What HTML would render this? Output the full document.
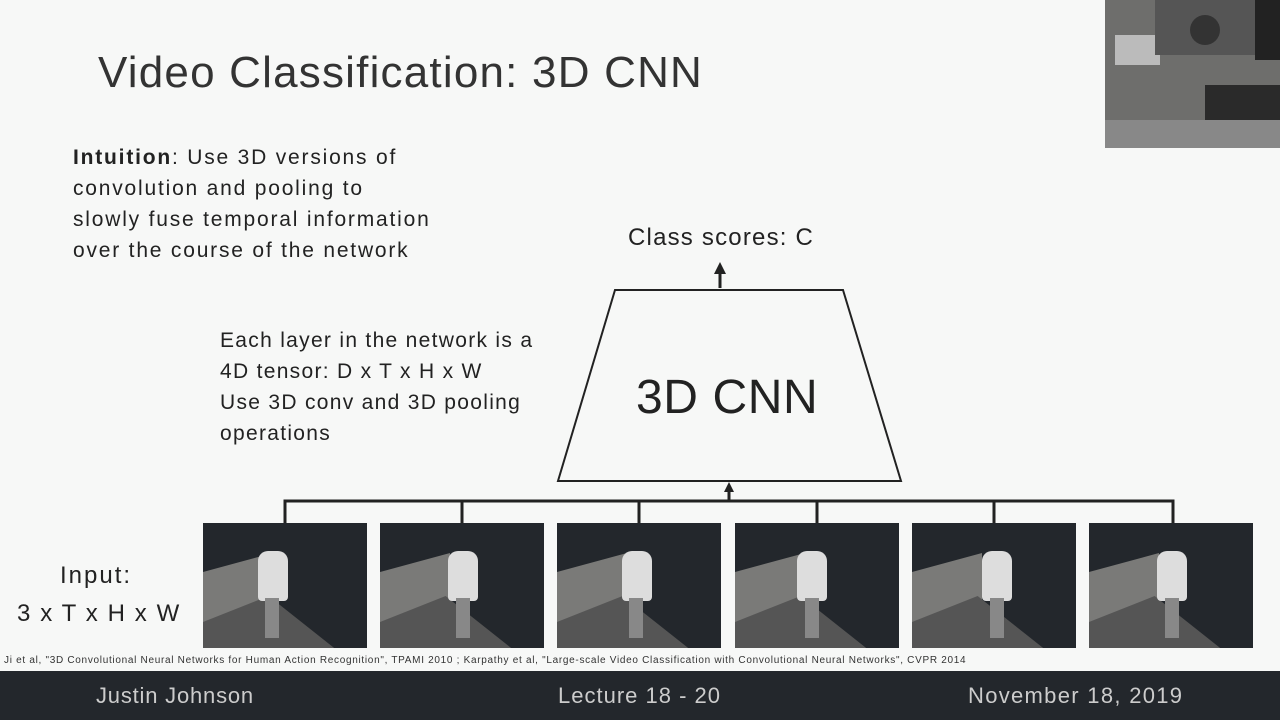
<!DOCTYPE html>
<html><head><meta charset="utf-8"><style>
body{margin:0;width:1280px;height:720px;background:#f7f8f7;position:relative;overflow:hidden;font-family:"Liberation Sans",sans-serif;color:#222}
.t{position:absolute;white-space:nowrap}
.fr{position:absolute;top:523px;width:164px;height:125px;background:#23272c;overflow:hidden}
.fr .w{position:absolute;left:0;top:30px;width:70px;height:95px;background:#7a7a78;clip-path:polygon(0 20%,100% 0,100% 100%,0 100%)}
.fr .g{position:absolute;left:0;top:60px;width:164px;height:65px;background:#555;clip-path:polygon(0 60%,40% 20%,80% 100%,0 100%)}
.fr .p{position:absolute;top:28px;width:30px;height:50px;background:#ddd;border-radius:10px 10px 4px 4px}
.fr .l{position:absolute;top:75px;width:14px;height:40px;background:#888}
</style></head><body>
<div class="t" style="left:98px;top:48px;font-size:44px;color:#333;letter-spacing:1.2px">Video Classification: 3D CNN</div>
<div class="t" style="left:73px;top:142px;font-size:21px;line-height:31px;letter-spacing:1.8px"><b>Intuition</b>: Use 3D versions of<br>convolution and pooling to<br>slowly fuse temporal information<br>over the course of the network</div>
<div class="t" style="left:220px;top:325px;font-size:21px;line-height:31px;letter-spacing:1.3px">Each layer in the network is a<br>4D tensor: D x T x H x W<br>Use 3D conv and 3D pooling<br>operations</div>
<div class="t" style="left:628px;top:224px;font-size:24px;letter-spacing:1.2px">Class scores: C</div>
<div class="t" style="left:636px;top:370px;font-size:48px;letter-spacing:0.6px">3D CNN</div>
<div class="t" style="left:60px;top:562px;font-size:24px;letter-spacing:2px">Input:</div>
<div class="t" style="left:17px;top:600px;font-size:24px;letter-spacing:1.6px">3 x T x H x W</div>
<svg style="position:absolute;left:0;top:0" width="1280" height="720">
<polygon points="615,290 843,290 901,481 558,481" fill="none" stroke="#222" stroke-width="2"/>
<line x1="720" y1="288" x2="720" y2="272" stroke="#222" stroke-width="3"/>
<polygon points="714,274 726,274 720,262" fill="#222"/>
<polyline points="285,523 285,501 1173,501 1173,523" fill="none" stroke="#222" stroke-width="3"/>
<g stroke="#222" stroke-width="3"><line x1="462" y1="501" x2="462" y2="523"/><line x1="639" y1="501" x2="639" y2="523"/><line x1="817" y1="501" x2="817" y2="523"/><line x1="994" y1="501" x2="994" y2="523"/>
<line x1="729" y1="501" x2="729" y2="490"/></g>
<polygon points="724,492 734,492 729,482" fill="#222"/>
</svg>
<div class="fr" style="left:203px"><div class="w"></div><div class="g"></div><div class="p" style="left:55px"></div><div class="l" style="left:62px"></div></div>
<div class="fr" style="left:380px"><div class="w"></div><div class="g"></div><div class="p" style="left:68px"></div><div class="l" style="left:76px"></div></div>
<div class="fr" style="left:557px"><div class="w"></div><div class="g"></div><div class="p" style="left:65px"></div><div class="l" style="left:72px"></div></div>
<div class="fr" style="left:735px"><div class="w"></div><div class="g"></div><div class="p" style="left:62px"></div><div class="l" style="left:70px"></div></div>
<div class="fr" style="left:912px"><div class="w"></div><div class="g"></div><div class="p" style="left:70px"></div><div class="l" style="left:78px"></div></div>
<div class="fr" style="left:1089px"><div class="w"></div><div class="g"></div><div class="p" style="left:68px"></div><div class="l" style="left:76px"></div></div>
<div class="t" style="left:4px;top:655px;font-size:10px;color:#333;letter-spacing:0.7px">Ji et al, "3D Convolutional Neural Networks for Human Action Recognition", TPAMI 2010 ; Karpathy et al, "Large-scale Video Classification with Convolutional Neural Networks", CVPR 2014</div>
<div style="position:absolute;left:0;top:671px;width:1280px;height:49px;background:#23272c"></div>
<div class="t" style="left:96px;top:683px;font-size:22px;color:#ccc;letter-spacing:0.8px">Justin Johnson</div>
<div class="t" style="left:558px;top:683px;font-size:22px;color:#ccc;letter-spacing:1px">Lecture 18 - 20</div>
<div class="t" style="left:968px;top:683px;font-size:22px;color:#ccc;letter-spacing:1.3px">November 18, 2019</div>
<div style="position:absolute;left:1105px;top:0;width:175px;height:148px;background:#6e6e6c;overflow:hidden">
<div style="position:absolute;left:10px;top:35px;width:45px;height:30px;background:#bbb"></div>
<div style="position:absolute;left:50px;top:0;width:120px;height:55px;background:#555"></div>
<div style="position:absolute;left:150px;top:0;width:25px;height:60px;background:#222"></div>
<div style="position:absolute;left:85px;top:15px;width:30px;height:30px;background:#333;border-radius:50%"></div>
<div style="position:absolute;left:0;top:120px;width:175px;height:28px;background:#888"></div>
<div style="position:absolute;left:100px;top:85px;width:75px;height:35px;background:#2a2a2a"></div>
</div>
</body></html>
